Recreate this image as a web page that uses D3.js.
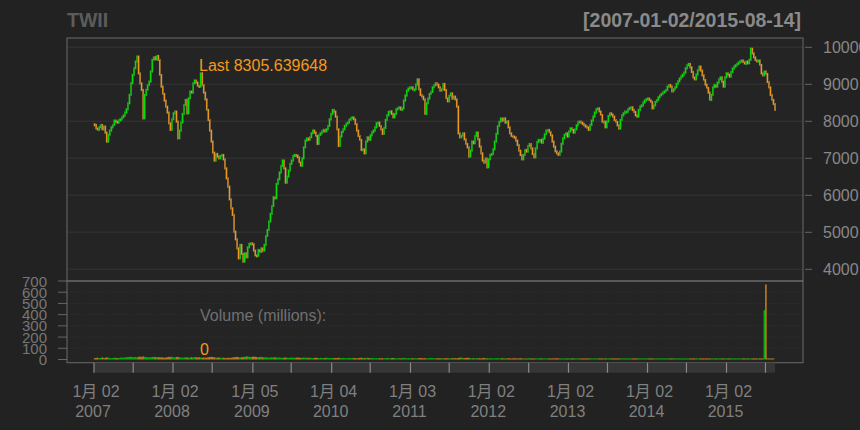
<!DOCTYPE html>
<html>
<head>
<meta charset="utf-8">
<script src="https://cdn.jsdelivr.net/npm/d3@7"></script>
<style>
  body { margin: 0; background: #222222; }
  svg { display: block; font-family: "Liberation Sans", Arial, "Noto Sans CJK JP", sans-serif; }
</style>
</head>
<body>
<div id="chart"></div>
<script>
// TWII weekly closes, 2007-01-05 .. 2015-08-14 (Fridays)
var symbol = "TWII";
var dateRange = "[2007-01-02/2015-08-14]";
var firstDate = "2007-01-02", lastDate = "2015-08-14";
var firstOpen = 7920;

var closes = [
  7901,7811,7766,7838,7901,7784,7856,7694,7450,7631,
  7748,7838,7901,8018,7991,7964,8036,8054,8108,8153,
  8234,8324,8486,8712,9027,9252,9432,9613,9748,9297,
  9027,8847,8081,8712,8847,8982,9072,9342,9658,9730,
  9676,9766,9658,9252,8937,8739,8559,8396,8234,7946,
  7766,8054,8216,8261,7991,7541,7748,7964,8198,8441,
  8577,8216,8622,8802,8775,9027,9099,9045,8955,8937,
  9300,8982,8775,8595,8306,8036,7748,7450,7153,6937,
  7117,7045,7000,7063,
  7090,6973,6730,6460,6234,5892,5649,5469,5018,4811,
  4568,4297,4658,4414,4207,4432,4324,4595,4685,4703,
  4685,4505,4378,4360,4523,4468,4568,4505,4658,4901,
  5063,5288,5496,5712,5946,5919,6306,6432,6613,6793,
  6937,6730,6342,6505,6667,6847,6937,7063,7090,7081,
  7027,6901,6793,7000,7297,7477,7532,7496,7568,7676,
  7748,7694,7604,7387,7631,7676,7721,7766,7730,7784,
  7874,8054,8198,8306,8261,8126,7784,7333,7586,7712,
  7784,7874,7928,7964,8036,8081,8108,8054,7928,
  7748,7604,7496,7225,7243,7135,7450,7568,7496,7622,
  7703,7748,7838,7946,7964,7874,7784,7658,7820,8036,
  8162,8252,8270,8198,8108,8198,8324,8360,8378,8306,
  8351,8559,8694,8829,8883,8919,8919,8865,8865,8991,
  9135,8865,8712,8667,8595,8198,8486,8613,8739,8793,
  8919,8973,9027,8991,8919,8829,8865,9009,8847,8631,
  8541,8685,8757,8613,8667,8595,8396,7676,7568,7604,
  7676,7514,7387,7297,7045,7207,7450,7405,7604,7694,
  7514,7315,7135,6937,6883,6991,6757,6973,7090,
  7117,7243,7450,7658,7874,7982,8072,8018,8081,7964,
  8000,7838,7676,7604,7586,7568,7477,7360,7207,7090,
  6973,7090,7225,7180,7333,7387,7270,7117,7027,7270,
  7441,7496,7496,7423,7532,7658,7748,7766,7712,7622,
  7450,7315,7189,7135,7090,7180,7387,7541,7631,7676,
  7586,7721,7811,7766,7694,7784,7892,7982,7991,7964,
  7928,7892,7856,7838,7766,7901,8018,8126,8234,8324,
  8351,8270,8171,7991,7991,7838,7991,8144,8216,8180,
  8126,8036,7982,7892,7802,8036,8162,8216,8261,
  8261,8324,8360,8378,8306,8252,8162,8126,8306,8396,
  8432,8505,8559,8595,8613,8577,8523,8351,8432,8523,
  8577,8649,8703,8739,8775,8811,8847,8937,8982,8937,
  8811,8865,8919,9009,9081,9153,9207,9261,9315,9432,
  9514,9550,9459,9333,9189,9135,9261,9387,9477,9369,
  9243,9117,8991,8901,8775,8577,8712,8919,8982,8937,
  9045,9135,9189,9072,8937,9189,9297,9261,9207,9333,
  9423,9477,9514,9550,9586,9622,9640,9604,9550,9613,
  9568,9658,9960,9838,9730,9658,9622,9640,9523,9297,
  9243,9342,9279,9063,8919,8712,8577,8468,8305.639648
];

// weekly volume, millions
var volumes = [
  12,14,16,12,14,18,16,14,20,16, 14,12,14,16,14,12,14,16,18,16,
  18,20,22,24,24,22,20,22,20,24, 26,22,28,24,22,20,18,20,22,24,
  22,20,22,18,20,18,16,18,20,24, 22,26,20,18,22,24,20,18,16,18,
  20,18,16,18,20,18,22,20,18,20, 18,16,18,16,18,20,22,24,22,20,
  18,16,18,16,14,16,14,12,16,14, 16,18,20,22,24,20,18,20,22,24,
  26,28,24,22,24,26,24,22,20,22, 24,20,18,20,18,16,18,20,18,20,
  18,16,18,16,14,16,18,16,14,16, 18,16,14,16,18,16,14,16,18,16,
  16,14,16,14,12,14,16,14,12,14, 14,12,14,16,14,12,14,12,14,12,
  14,16,14,12,14,12,10,12,14,12, 12,14,12,10,12,14,16,14,12,14,
  16,14,12,14,12,10,12,10,12,10, 12,10,12,14,12,10,12,14,12,10,
  10,12,10,12,14,12,10,12,10,12, 12,10,12,10,12,14,12,10,12,10,
  10,12,14,12,10,12,10,12,10,12, 12,10,12,10,12,10,12,14,12,10,
  14,16,18,14,12,14,16,14,12,10, 12,10,12,10,12,10,12,14,12,10,
  10,12,10,9,10,12,10,9,10,12, 10,9,10,12,10,9,10,12,10,9,
  10,12,10,9,10,9,10,12,10,9, 9,10,9,10,12,10,9,10,9,10,
  10,9,10,9,10,12,10,9,10,9, 9,10,9,10,9,10,9,10,9,10,
  10,9,10,9,10,9,10,9,10,9, 9,10,9,10,9,10,9,10,9,10,
  10,9,10,9,10,9,10,9,10,9, 9,10,9,10,9,10,9,10,9,10,
  10,9,10,9,10,9,10,9,10,9, 9,10,9,10,9,10,9,10,9,10,
  10,9,10,9,10,9,10,9,10,9, 9,10,9,10,9,10,9,10,9,10,
  10,9,10,9,10,9,10,9,10,9, 9,10,9,10,9,10,9,10,9,10,
  10,9,10,9,10,9,10,9,10,9, 9,10,9,10,9,10,9,10,9,10,
  10,9,440,670,9,10,9,10,9,0
];

var priceTicks = [4000, 5000, 6000, 7000, 8000, 9000, 10000];
var volumeTicks = [0, 100, 200, 300, 400, 500, 600, 700];
var yearTicks = ["2007-01-02","2008-01-02","2009-01-05","2010-01-04","2011-01-03",
                 "2012-01-02","2013-01-02","2014-01-02","2015-01-02"];
var yearLabels = ["1月 02","1月 02","1月 05","1月 04","1月 03","1月 02","1月 02","1月 02","1月 02"];
var julyTicks = ["2007-07-02","2008-07-01","2009-07-01","2010-07-01","2011-07-01",
                 "2012-07-02","2013-07-01","2014-07-01","2015-07-01"];

var upCol = "#00e000", dnCol = "#ee991c";
var parse = d3.timeParse("%Y-%m-%d");

var weeks = d3.timeFriday.range(new Date(2007, 0, 5), new Date(2015, 7, 15));
var data = closes.map(function (c, i) {
  var o = i === 0 ? firstOpen : closes[i - 1];
  return { date: weeks[i], open: o, close: c, volume: volumes[i] };
});

var svg = d3.select("#chart").append("svg")
  .attr("width", 860).attr("height", 430);

svg.append("rect").attr("width", 860).attr("height", 430).attr("fill", "#222222");

var left = 67, right = 803;
var mainTop = 38, mainBottom = 281, volBottom = 362.7;

var x = d3.scaleTime()
  .domain([parse(firstDate), parse(lastDate)])
  .range([94, 775]);

var yPrice = d3.scaleLinear().domain([4000, 10000]).range([269.3, 47.3]);
var yVol = d3.scaleLinear().domain([0, 700]).range([359.5, 281]);

// panel backgrounds
svg.append("rect")
  .attr("x", left).attr("y", mainTop)
  .attr("width", right - left).attr("height", volBottom - mainTop)
  .attr("fill", "#242424");

// price grid
svg.append("g").selectAll("line").data(priceTicks).enter().append("line")
  .attr("x1", left).attr("x2", right)
  .attr("y1", function (d) { return yPrice(d); })
  .attr("y2", function (d) { return yPrice(d); })
  .attr("stroke", "#2f2f2f").attr("stroke-width", 1.5);

// volume grid (dotted)
svg.append("g").selectAll("line").data(volumeTicks.slice(1, 7)).enter().append("line")
  .attr("x1", left).attr("x2", right)
  .attr("y1", function (d) { return yVol(d); })
  .attr("y2", function (d) { return yVol(d); })
  .attr("stroke", "#333333").attr("stroke-dasharray", "1,2");

// candles: body from previous close to close
var w = 1.6;
svg.append("g").selectAll("rect").data(data).enter().append("rect")
  .attr("x", function (d) { return x(d.date) - w / 2; })
  .attr("y", function (d) { return yPrice(Math.max(d.open, d.close)) - 1; })
  .attr("width", w)
  .attr("height", function (d) {
    return Math.max(3, Math.abs(yPrice(d.open) - yPrice(d.close)) + 2);
  })
  .attr("fill", function (d) { return d.close >= d.open ? upCol : dnCol; })
  .attr("stroke", "#555555").attr("stroke-width", 0.25);

// volume bars
svg.append("g").selectAll("rect").data(data).enter().append("rect")
  .attr("x", function (d) { return x(d.date) - w / 2; })
  .attr("y", function (d) { return yVol(d.volume); })
  .attr("width", w)
  .attr("height", function (d) { return yVol(0) - yVol(d.volume); })
  .attr("fill", function (d) { return d.close >= d.open ? upCol : dnCol; })
  .attr("opacity", 0.75);

// frames
svg.append("rect")
  .attr("x", left).attr("y", mainTop)
  .attr("width", right - left).attr("height", mainBottom - mainTop)
  .attr("fill", "none").attr("stroke", "#6a6a6a");
svg.append("rect")
  .attr("x", left).attr("y", mainBottom)
  .attr("width", right - left).attr("height", volBottom - mainBottom)
  .attr("fill", "none").attr("stroke", "#6a6a6a");

// right price axis
var pAxis = svg.append("g");
pAxis.selectAll("line").data(priceTicks).enter().append("line")
  .attr("x1", right + 2).attr("x2", right + 9)
  .attr("y1", function (d) { return yPrice(d); })
  .attr("y2", function (d) { return yPrice(d); })
  .attr("stroke", "#666666");
pAxis.selectAll("text").data(priceTicks).enter().append("text")
  .attr("x", 823)
  .attr("y", function (d) { return yPrice(d) + 6; })
  .attr("fill", "#888888").attr("font-size", 16)
  .text(function (d) { return d; });

// left volume axis
var vAxis = svg.append("g");
vAxis.selectAll("line").data(volumeTicks).enter().append("line")
  .attr("x1", 58).attr("x2", left)
  .attr("y1", function (d) { return yVol(d); })
  .attr("y2", function (d) { return yVol(d); })
  .attr("stroke", "#666666");
vAxis.selectAll("text").data(volumeTicks).enter().append("text")
  .attr("x", 47)
  .attr("y", function (d) { return yVol(d) + 5.5; })
  .attr("text-anchor", "end")
  .attr("fill", "#777777").attr("font-size", 15)
  .text(function (d) { return d; });

// x axis band with Jan / Jul ticks
svg.append("rect")
  .attr("x", 94).attr("y", volBottom)
  .attr("width", 775 - 94).attr("height", 10)
  .attr("fill", "#363636");
var bandTicks = yearTicks.concat(julyTicks);
svg.append("g").selectAll("line").data(bandTicks).enter().append("line")
  .attr("x1", function (d) { return x(parse(d)); })
  .attr("x2", function (d) { return x(parse(d)); })
  .attr("y1", volBottom).attr("y2", volBottom + 10)
  .attr("stroke", "#8a8a8a").attr("stroke-width", 1.2);

var xl = svg.append("g");
xl.selectAll("text.md").data(yearTicks).enter().append("text")
  .attr("class", "md")
  .attr("x", function (d) { return x(parse(d)) + 2; })
  .attr("y", 397)
  .attr("text-anchor", "middle")
  .attr("fill", "#808080").attr("font-size", 16)
  .text(function (d, i) { return yearLabels[i]; });
xl.selectAll("text.yr").data(yearTicks).enter().append("text")
  .attr("class", "yr")
  .attr("x", function (d) { return x(parse(d)) - 1; })
  .attr("y", 417)
  .attr("text-anchor", "middle")
  .attr("fill", "#808080").attr("font-size", 16)
  .text(function (d) { return d.slice(0, 4); });

// titles
svg.append("text")
  .attr("x", 67).attr("y", 27)
  .attr("fill", "#5c5c5c").attr("font-size", 19.5).attr("font-weight", "bold")
  .text(symbol);
svg.append("text")
  .attr("x", 801).attr("y", 27)
  .attr("text-anchor", "end")
  .attr("fill", "#8a8a8a").attr("font-size", 19.5).attr("font-weight", "bold")
  .text(dateRange);

// last values
var last = data[data.length - 1];
svg.append("text")
  .attr("x", 199).attr("y", 71)
  .attr("fill", "#f2991d").attr("font-size", 16)
  .text("Last " + last.close.toFixed(6));
svg.append("text")
  .attr("x", 200).attr("y", 321)
  .attr("fill", "#707070").attr("font-size", 16)
  .text("Volume (millions):");
svg.append("text")
  .attr("x", 200).attr("y", 355)
  .attr("fill", "#f2991d").attr("font-size", 16)
  .text(last.volume);
</script>
</body>
</html>
